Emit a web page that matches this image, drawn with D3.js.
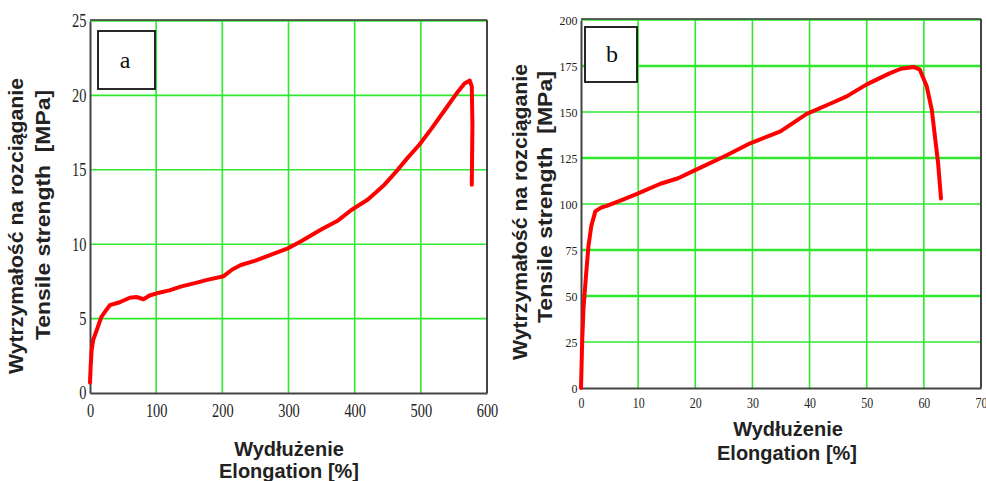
<!DOCTYPE html>
<html>
<head>
<meta charset="utf-8">
<script src="https://cdn.jsdelivr.net/npm/d3@7"></script>
<style>
  html, body { margin: 0; padding: 0; background: #fff; }
  svg { display: block; }
  .ttl { font-family: "Liberation Sans", Arial, sans-serif; font-weight: bold; fill: #222; white-space: pre; }
  .tick text { font-family: "Liberation Serif", "Times New Roman", serif; fill: #222; }
</style>
</head>
<body>
<svg id="chart" width="986" height="481"></svg>
<script>
// ---- Data: panel a ----
const aElongation = [0, 1, 2.5, 5, 10, 17, 25, 30, 45, 60, 70, 81, 90, 101, 120, 137, 160, 177, 202, 215, 228, 250, 268, 298, 319, 350, 375, 395, 420, 445, 465, 480, 498, 515, 536, 556, 566, 574, 577, 578, 577.5, 577];
const aStress     = [0.7, 1.8, 2.9, 3.6, 4.2, 5.1, 5.6, 5.9, 6.1, 6.4, 6.45, 6.3, 6.55, 6.7, 6.9, 7.15, 7.4, 7.6, 7.85, 8.3, 8.6, 8.9, 9.2, 9.7, 10.2, 11.0, 11.6, 12.3, 13.0, 14.0, 15.0, 15.8, 16.7, 17.7, 19.0, 20.25, 20.8, 21.0, 20.6, 18.0, 16.0, 14.0];
const aXTicks = [0, 100, 200, 300, 400, 500, 600];
const aYTicks = [0, 5, 10, 15, 20, 25];

// ---- Data: panel b ----
const bElongation = [0, 0.1, 0.2, 0.45, 0.9, 1.3, 1.8, 2.5, 3.5, 4.5, 7, 9.8, 13.9, 17, 19.7, 25.5, 29.6, 34.9, 39.5, 43.6, 46.5, 50, 54, 56, 58.2, 59.3, 60.5, 61.4, 62, 62.5, 63];
const bStress     = [0, 12, 25, 44, 62, 77, 88, 96, 98, 99, 102, 105.5, 111, 114, 118, 126.5, 133, 139.5, 149, 154.5, 158.5, 165, 171, 173.5, 174.5, 173, 164, 151, 135, 122, 103];
const bXTicks = [0, 10, 20, 30, 40, 50, 60, 70];
const bYTicks = [0, 25, 50, 75, 100, 125, 150, 175, 200];

const yTitle1 = "Wytrzymałość na rozciąganie";
const yTitle2 = "Tensile strength  [MPa]";
const xTitle1 = "Wydłużenie";
const xTitle2 = "Elongation [%]";

const svg = d3.select("#chart");

const panels = [
  {
    label: "a", xs: aElongation, ys: aStress, xTicks: aXTicks, yTicks: aYTicks,
    left: 90, right: 487, top: 21, bottom: 393,
    xFont: 18, xScaleX: 0.8, xLabelDy: 24, yFont: 18, yScaleX: 0.8,
    box: {x: 98, y: 31, w: 57, h: 58}, labelPos: [125, 68],
    yT1: {x: 23, y: 226, len: 296}, yT2: {x: 50, y: 215, len: 250},
    xT1: {x: 289, y: 456}, xT2: {x: 289, y: 478},
    thick: []
  },
  {
    label: "b", xs: bElongation, ys: bStress, xTicks: bXTicks, yTicks: bYTicks,
    left: 581, right: 981, top: 20, bottom: 388,
    xFont: 14, xScaleX: 0.85, xLabelDy: 20, yFont: 13, yScaleX: 0.92,
    box: {x: 585, y: 27, w: 52, h: 55}, labelPos: [612, 62],
    yT1: {x: 527, y: 212, len: 296}, yT2: {x: 552, y: 197, len: 252},
    xT1: {x: 788, y: 436}, xT2: {x: 787, y: 460},
    thick: [175, 125, 75, 50]
  }
];

panels.forEach(p => {
  const x = d3.scaleLinear()
    .domain([p.xTicks[0], p.xTicks[p.xTicks.length - 1]])
    .range([p.left, p.right]);
  const y = d3.scaleLinear()
    .domain([p.yTicks[0], p.yTicks[p.yTicks.length - 1]])
    .range([p.bottom, p.top]);

  const g = svg.append("g");

  // grid
  g.append("g").selectAll("line").data(p.xTicks.slice(1, -1)).join("line")
    .attr("x1", d => x(d)).attr("x2", d => x(d))
    .attr("y1", p.top).attr("y2", p.bottom)
    .attr("stroke", "#2ee82e").attr("stroke-width", 1.6);
  g.append("g").selectAll("line").data(p.yTicks.slice(1)).join("line")
    .attr("x1", p.left).attr("x2", p.right)
    .attr("y1", d => y(d)).attr("y2", d => y(d))
    .attr("stroke", "#2ee82e")
    .attr("stroke-width", d => p.thick.includes(d) ? 2.6 : 1.6);

  // frame
  g.append("line").attr("x1", p.left).attr("x2", p.right).attr("y1", p.top - 1).attr("y2", p.top - 1)
    .attr("stroke", "#333").attr("stroke-width", 1.5);
  g.append("line").attr("x1", p.right).attr("x2", p.right).attr("y1", p.top - 1).attr("y2", p.bottom)
    .attr("stroke", "#444").attr("stroke-width", 2);

  // axes
  const xAxis = g.append("g").attr("transform", `translate(0,${p.bottom})`)
    .call(d3.axisBottom(x).tickValues(p.xTicks).tickSize(0).tickPadding(0));
  xAxis.select(".domain").attr("stroke", "#444").attr("stroke-width", 2);
  xAxis.selectAll(".tick text")
    .attr("font-size", p.xFont)
    .attr("dy", 0).attr("y", p.xLabelDy)
    .attr("transform", `scale(${p.xScaleX},1)`);

  const yAxis = g.append("g").attr("transform", `translate(${p.left},0)`)
    .call(d3.axisLeft(y).tickValues(p.yTicks).tickSize(0).tickPadding(0));
  yAxis.select(".domain").attr("stroke", "#444").attr("stroke-width", 2);
  yAxis.selectAll(".tick text")
    .attr("font-size", p.yFont)
    .attr("x", -3.5 / p.yScaleX)
    .attr("dy", "0.33em")
    .attr("transform", `scale(${p.yScaleX},1)`);

  // curve
  const pts = p.xs.map((v, i) => [v, p.ys[i]]);
  g.append("path").datum(pts)
    .attr("d", d3.line().x(d => x(d[0])).y(d => y(d[1])))
    .attr("fill", "none").attr("stroke", "#ff0000")
    .attr("stroke-width", 4).attr("stroke-linejoin", "round").attr("stroke-linecap", "round");

  // label box
  g.append("rect").attr("x", p.box.x).attr("y", p.box.y).attr("width", p.box.w).attr("height", p.box.h)
    .attr("fill", "#fff").attr("stroke", "#111").attr("stroke-width", 1.8);
  g.append("text").attr("x", p.labelPos[0]).attr("y", p.labelPos[1])
    .attr("text-anchor", "middle")
    .attr("font-family", "Liberation Serif, Times New Roman, serif")
    .attr("font-size", 24).attr("fill", "#111").text(p.label);

  // titles
  g.append("text").attr("class", "ttl")
    .attr("transform", `translate(${p.yT1.x},${p.yT1.y}) rotate(-90)`)
    .attr("text-anchor", "middle").attr("font-size", 21)
    .attr("textLength", p.yT1.len).attr("lengthAdjust", "spacingAndGlyphs")
    .text(yTitle1);
  g.append("text").attr("class", "ttl")
    .attr("transform", `translate(${p.yT2.x},${p.yT2.y}) rotate(-90)`)
    .attr("text-anchor", "middle").attr("font-size", 21)
    .attr("textLength", p.yT2.len).attr("lengthAdjust", "spacingAndGlyphs")
    .text(yTitle2);
  g.append("text").attr("class", "ttl")
    .attr("x", p.xT1.x).attr("y", p.xT1.y)
    .attr("text-anchor", "middle").attr("font-size", 20)
    .text(xTitle1);
  g.append("text").attr("class", "ttl")
    .attr("x", p.xT2.x).attr("y", p.xT2.y)
    .attr("text-anchor", "middle").attr("font-size", 20)
    .text(xTitle2);
});
</script>
</body>
</html>
